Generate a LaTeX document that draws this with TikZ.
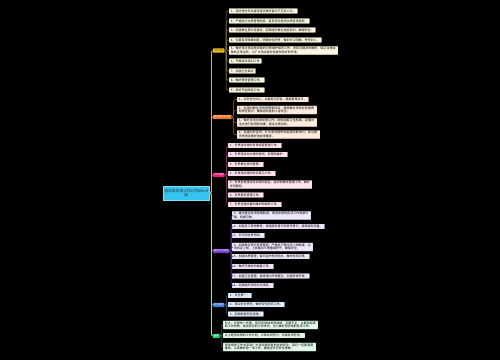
\documentclass[tikz,border=0pt]{standalone}
\usepackage{fontspec}
\setmainfont{Noto Sans CJK SC}
\XeTeXlinebreaklocale "zh"
\XeTeXlinebreakskip=0pt plus 0.5pt
\definecolor{rootc}{HTML}{35C3EF}
\definecolor{ybr}{HTML}{F2C417}
\definecolor{obr}{HTML}{E8772B}
\definecolor{pbr}{HTML}{E8197D}
\definecolor{vbr}{HTML}{7B3FCB}
\definecolor{bbr}{HTML}{3D7AD6}
\definecolor{gbr}{HTML}{2ECC71}
\definecolor{yfill}{HTML}{FCF6E2}
\definecolor{ofill}{HTML}{FBEBDE}
\definecolor{pfill}{HTML}{FCE6F0}
\definecolor{vfill}{HTML}{EFE8F8}
\definecolor{bfill}{HTML}{E4EEFA}
\definecolor{gfill}{HTML}{E4F8EA}
\definecolor{yline}{HTML}{D4AE78}
\definecolor{oline}{HTML}{E58A4E}
\definecolor{pline}{HTML}{D0508A}
\definecolor{vline}{HTML}{8A5AD0}
\definecolor{bline}{HTML}{5A8AD0}
\definecolor{gline}{HTML}{8EE8A8}
\definecolor{ysub}{HTML}{8D7C4E}
\definecolor{osub}{HTML}{B0603A}
\definecolor{psub}{HTML}{A02A60}
\definecolor{vsub}{HTML}{5A3A9A}
\definecolor{bsub}{HTML}{3A5A90}
\definecolor{gsub}{HTML}{3A8A5A}
\tikzset{
  lf/.style={anchor=west, inner xsep=1.8pt, inner ysep=0.9pt, font=\fontsize{3}{3.4}\selectfont, line width=0.3pt, rounded corners=0.4pt},
  tw/.style={text width=#1, align=left},
  ly/.style={lf, fill=yfill, draw=white!80!ybr},
  lo/.style={lf, fill=ofill, draw=white!75!obr},
  lp/.style={lf, fill=pfill, draw=white!75!pbr},
  lv/.style={lf, fill=vfill, draw=white!75!vbr},
  lb/.style={lf, fill=bfill, draw=white!75!bbr},
  lg/.style={lf, fill=gfill, draw=white!75!gbr},
  brn/.style={anchor=west, inner xsep=0.8pt, inner ysep=1.1pt, font=\fontsize{2.4}{2.8}\selectfont, text=white, rounded corners=0.5pt},
  spine/.style={line width=0.8pt, rounded corners=2pt},
  sub/.style={line width=0.5pt, rounded corners=1.5pt}
}
\begin{document}
\begin{tikzpicture}[x=1pt,y=-1pt]
\fill[black] (0,0) rectangle (500,360);
\useasboundingbox (0,0) rectangle (500,360);

% root
\node[anchor=west, fill=rootc, draw=rootc!60!white, line width=0.4pt, minimum width=46pt, minimum height=14pt, inner sep=1pt, align=center, font=\fontsize{3.8}{4.6}\selectfont, text=black!80] (root) at (163,193) {游泳馆年度工作计划Word\\版};

% branches
\node[brn, fill=ybr, text=black!70] (b1) at (213,50.5) {工作总结};
\node[brn, fill=obr] (b2) at (213,117) {游泳馆工作计划};
\node[brn, fill=pbr] (b3) at (213,175) {工作范围};
\node[brn, fill=vbr] (b4) at (213,251) {具体工作措施};
\node[brn, fill=bbr] (b5) at (213,305) {安全管理};
\node[brn, fill=gbr] (b6) at (213,336) {总结};

% yellow leaves
\node[ly] (y1) at (229,11) {1、游泳馆全年共接待游泳爱好者约三万余人次，};
\node[ly] (y2) at (229,21) {2、严格执行水质管理制度，每日定时检测水质各项指标。};
\node[ly] (y3) at (229,30) {3、加强救生员队伍建设，定期组织救生技能培训，确保安全。};
\node[ly] (y4) at (229,40) {4、完善各项规章制度，明确岗位职责，做到分工明确、责任到人。};
\node[ly, tw=105pt] (y5) at (229,50.5) {5、做好游泳馆设施设备的日常维护保养工作，发现问题及时维修，保证设施设备的正常运转，为广大游泳爱好者提供良好的环境。};
\node[ly] (y6) at (229,61) {6、开展游泳培训工作};
\node[ly] (y7) at (229,71) {7、加强卫生保洁};
\node[ly] (y8) at (229,80) {8、做好票务管理工作。};
\node[ly] (y9) at (229,90) {9、抓好节能降耗工作。};

% orange leaves
\node[lo] (o1) at (237,99.5) {1、以安全为中心，以服务为宗旨，提高管理水平。};
\node[lo, tw=76pt] (o2) at (237,110) {2、加强对救生员的管理和培训，提高救生员的业务素质和责任意识，确保游泳者的人身安全。};
\node[lo, tw=76pt] (o3) at (237,122.5) {3、做好泳池水质处理工作，按照国家卫生标准，定期对池水进行检测和消毒，保证水质达标。};
\node[lo, tw=79pt] (o4) at (237,134.5) {4、加强对外宣传，扩大游泳馆的知名度和影响力，吸引更多的游泳爱好者前来健身。};

% pink leaves
\node[lp] (p1) at (228,145.5) {1、负责游泳馆的日常经营管理工作。};
\node[lp] (p2) at (228,154.5) {2、负责游泳池水质的检测、处理和维护。};
\node[lp] (p3) at (228,164.5) {3、负责救生员的管理。};
\node[lp] (p4) at (228,173.5) {4、负责游泳馆的安全保卫工作。};
\node[lp, tw=80pt] (p5) at (228,184.5) {5、负责各类游泳培训班的招生、组织和教学管理工作，做好学员服务。};
\node[lp] (p6) at (228,195) {6、负责票务管理工作。};
\node[lp] (p7) at (228,204.5) {7、负责设施设备的维护和保养工作。};

% purple leaves
\node[lv, tw=75pt] (v1) at (232,215.5) {1、建立健全各项管理制度，使游泳馆的各项工作有章可循、有据可依。};
\node[lv] (v2) at (232,226.5) {2、加强员工思想教育，增强服务意识和责任意识，提高服务质量。};
\node[lv] (v3) at (232,235.5) {3、实行岗位责任制。};
\node[lv, tw=77pt] (v4) at (232,247) {4、加强救生员的日常管理，严格执行救生员上岗制度，必须持证上岗，上岗期间不得擅离职守，确保安全。};
\node[lv] (v5) at (232,256.5) {5、加强水质管理，每天定时检测池水，做好检测记录。};
\node[lv] (v6) at (232,266.5) {6、做好开放前的准备工作。};
\node[lv] (v7) at (232,276) {7、加强卫生管理，保持馆内环境整洁，创造舒适环境。};
\node[lv] (v8) at (232,285.5) {8、定期组织消防安全演练。};

% blue leaves
\node[lb] (c1) at (228,295.5) {1、安全第一。};
\node[lb] (c2) at (228,304.5) {2、落实安全责任，做好安全防范工作。};
\node[lb] (c3) at (228,314) {3、定期检查安全设施。};

% green leaves
\node[lg, tw=91pt] (g1) at (223,325) {总之，在新的一年里，我们将继续发扬成绩，克服不足，以更加饱满的工作热情，更加务实的工作作风，全力做好游泳馆的各项工作。};
\node[lg] (g2) at (223,335.5) {以上是游泳馆的工作计划，大家共同努力，完成各项任务。};
\node[lg, tw=89pt] (g3) at (223,347) {游泳馆的工作关系到广大游泳爱好者的生命安全，我们一定要高度重视，认真做好每一项工作，确保全年无安全事故。};

% spine (nearest first, farthest last)
\draw[spine, pline] (root.east) -- ++(2,0) |- (b3.west);
\draw[spine, oline] (root.east) -- ++(2,0) |- (b2.west);
\draw[spine, yline] (root.east) -- ++(2,0) |- (b1.west);
\draw[spine, vline] (root.east) -- ++(2,0) |- (b4.west);
\draw[spine, bline] (root.east) -- ++(2,0) |- (b5.west);
\draw[spine, gline] (root.east) -- ++(2,0) |- (b6.west);

% sub connectors
\foreach \n in {y1,y2,y3,y4,y5,y6,y7,y8,y9}
  \draw[sub, ysub] (b1.east) -- ++(1.5,0) |- (\n.west);
\foreach \n in {o1,o2,o3,o4}
  \draw[sub, osub] (b2.east) -- ++(1.8,0) |- (\n.west);
\foreach \n in {p1,p2,p3,p4,p5,p6,p7}
  \draw[sub, psub] (b3.east) -- ++(1.8,0) |- (\n.west);
\foreach \n in {v1,v2,v3,v4,v5,v6,v7,v8}
  \draw[sub, vsub] (b4.east) -- ++(1.8,0) |- (\n.west);
\foreach \n in {c1,c2,c3}
  \draw[sub, bsub] (b5.east) -- ++(1.8,0) |- (\n.west);
\foreach \n in {g1,g2,g3}
  \draw[sub, gsub] (b6.east) -- ++(1.2,0) |- (\n.west);
\end{tikzpicture}
\end{document}
